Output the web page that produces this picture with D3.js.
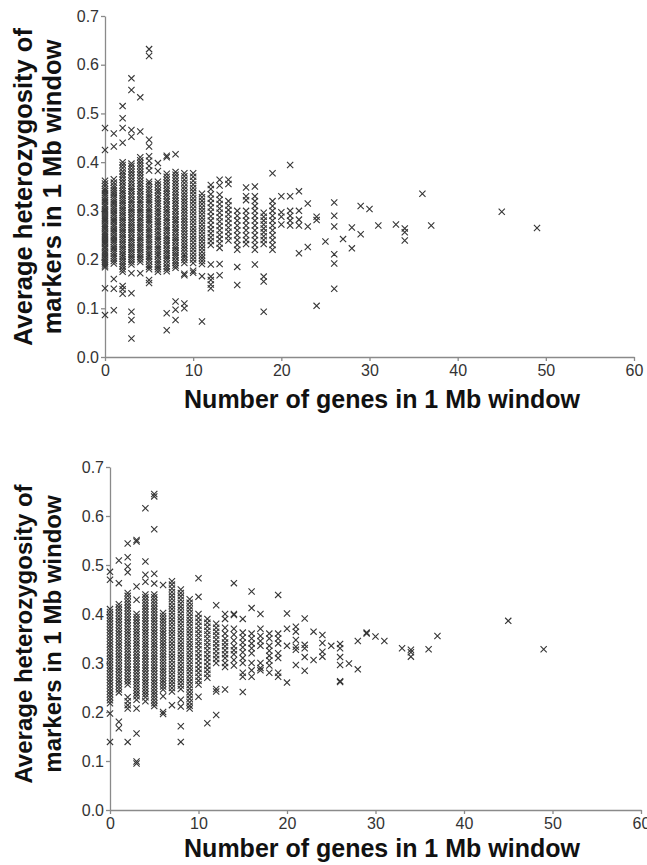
<!DOCTYPE html>
<html>
<head>
<meta charset="utf-8">
<script src="https://cdn.jsdelivr.net/npm/d3@7"></script>
<style>
  body { margin: 0; background: #fff; }
  svg { display: block; font-family: "Liberation Sans", Arial, sans-serif; }
  .axis path, .axis line { stroke: #8a8a8a; stroke-width: 1.3; }
  .axis text { fill: #333; font-size: 16px; }
  .title { fill: #111; font-weight: bold; }
  .pt { fill: none; stroke: #363636; stroke-width: 1.1; }
</style>
</head>
<body>
<svg id="chart" width="647" height="865"></svg>
<script>
// tick values
var xTicks = [0, 10, 20, 30, 40, 50, 60];
var yTicks = [0, 0.1, 0.2, 0.3, 0.4, 0.5, 0.6, 0.7];

// top panel: number of genes -> heterozygosity values
var topGenes = [0, 1, 2, 3, 4, 5, 6, 7, 8, 9, 10, 11, 12, 13, 14, 15, 16, 17, 18, 19, 20,
  21, 22, 23, 24, 25, 26, 27, 28, 29, 30, 31, 33, 34, 36, 37, 45, 49];
var topHet = [
  [0.47,0.425,0.362,0.356,0.351,0.345,0.341,0.336,0.332,0.327,0.322,0.318,0.313,0.309,0.304,0.3,0.296,0.291,0.287,0.283,0.279,0.274,0.27,0.266,0.262,0.257,0.253,0.249,0.245,0.24,0.236,0.232,0.227,0.223,0.218,0.214,0.21,0.205,0.2,0.196,0.192,0.188,0.184,0.141,0.086],
  [0.459,0.432,0.365,0.358,0.352,0.347,0.342,0.337,0.333,0.328,0.323,0.318,0.314,0.309,0.305,0.3,0.295,0.291,0.286,0.281,0.277,0.272,0.268,0.263,0.258,0.254,0.249,0.245,0.24,0.236,0.231,0.226,0.222,0.217,0.212,0.207,0.202,0.197,0.192,0.16,0.14,0.096],
  [0.515,0.49,0.47,0.44,0.4,0.394,0.388,0.381,0.375,0.37,0.364,0.358,0.352,0.347,0.341,0.336,0.331,0.326,0.321,0.316,0.311,0.306,0.301,0.296,0.291,0.286,0.281,0.276,0.271,0.266,0.261,0.256,0.251,0.246,0.241,0.236,0.231,0.226,0.221,0.216,0.211,0.206,0.201,0.196,0.191,0.186,0.18,0.175,0.146,0.139,0.13],
  [0.572,0.548,0.466,0.452,0.397,0.392,0.386,0.38,0.374,0.368,0.362,0.356,0.35,0.345,0.34,0.334,0.329,0.323,0.318,0.313,0.307,0.302,0.297,0.292,0.287,0.281,0.276,0.271,0.266,0.261,0.256,0.251,0.245,0.24,0.235,0.23,0.225,0.22,0.215,0.21,0.205,0.2,0.195,0.19,0.172,0.131,0.093,0.076,0.038],
  [0.533,0.463,0.41,0.404,0.398,0.392,0.386,0.38,0.374,0.368,0.362,0.356,0.351,0.345,0.34,0.334,0.329,0.323,0.318,0.313,0.307,0.302,0.297,0.292,0.286,0.281,0.276,0.271,0.266,0.261,0.256,0.25,0.245,0.24,0.235,0.23,0.225,0.22,0.215,0.21,0.205,0.2,0.195,0.172],
  [0.632,0.618,0.446,0.432,0.412,0.403,0.392,0.383,0.36,0.355,0.349,0.344,0.338,0.333,0.328,0.323,0.318,0.313,0.307,0.302,0.297,0.292,0.287,0.282,0.277,0.272,0.266,0.261,0.256,0.251,0.246,0.241,0.236,0.231,0.226,0.221,0.216,0.211,0.206,0.201,0.196,0.19,0.185,0.18,0.158,0.152],
  [0.398,0.382,0.36,0.354,0.348,0.342,0.337,0.331,0.326,0.32,0.315,0.31,0.304,0.299,0.294,0.289,0.283,0.278,0.273,0.268,0.263,0.257,0.252,0.247,0.242,0.237,0.231,0.226,0.221,0.216,0.211,0.206,0.2,0.195,0.19,0.185,0.18,0.175],
  [0.413,0.41,0.376,0.37,0.364,0.358,0.352,0.346,0.341,0.335,0.33,0.324,0.319,0.313,0.308,0.302,0.297,0.292,0.286,0.281,0.276,0.27,0.265,0.26,0.255,0.249,0.244,0.239,0.234,0.229,0.223,0.218,0.213,0.208,0.203,0.198,0.192,0.186,0.181,0.176,0.09,0.055],
  [0.416,0.38,0.374,0.368,0.362,0.356,0.35,0.344,0.338,0.332,0.327,0.321,0.315,0.31,0.304,0.299,0.293,0.288,0.282,0.277,0.272,0.266,0.261,0.256,0.25,0.245,0.24,0.235,0.229,0.224,0.219,0.214,0.209,0.204,0.198,0.193,0.188,0.183,0.114,0.097,0.076],
  [0.377,0.371,0.364,0.357,0.35,0.344,0.337,0.331,0.325,0.319,0.313,0.307,0.301,0.295,0.289,0.283,0.277,0.271,0.265,0.259,0.253,0.247,0.241,0.235,0.229,0.223,0.217,0.211,0.205,0.199,0.193,0.171,0.168,0.11,0.1],
  [0.377,0.37,0.362,0.354,0.347,0.34,0.333,0.326,0.319,0.312,0.305,0.298,0.291,0.284,0.277,0.27,0.263,0.256,0.249,0.242,0.235,0.228,0.221,0.214,0.207,0.2,0.193,0.177,0.173],
  [0.335,0.328,0.321,0.314,0.307,0.3,0.293,0.286,0.279,0.272,0.265,0.258,0.251,0.244,0.237,0.23,0.223,0.216,0.209,0.203,0.197,0.191,0.166,0.073],
  [0.353,0.345,0.334,0.325,0.316,0.307,0.298,0.289,0.28,0.271,0.262,0.254,0.246,0.238,0.23,0.19,0.165,0.158,0.149,0.141],
  [0.364,0.352,0.333,0.323,0.314,0.305,0.296,0.287,0.278,0.269,0.26,0.251,0.242,0.233,0.224,0.191,0.168],
  [0.364,0.355,0.32,0.311,0.302,0.293,0.284,0.275,0.266,0.257,0.248,0.239],
  [0.3,0.29,0.28,0.27,0.26,0.25,0.24,0.23,0.22,0.185,0.148],
  [0.348,0.33,0.322,0.3,0.29,0.28,0.27,0.26,0.25,0.24,0.232],
  [0.35,0.33,0.32,0.31,0.3,0.29,0.28,0.27,0.26,0.25,0.24,0.23,0.22,0.19],
  [0.296,0.288,0.28,0.272,0.264,0.256,0.248,0.24,0.232,0.165,0.155,0.093],
  [0.377,0.32,0.31,0.3,0.29,0.28,0.27,0.26,0.25,0.24,0.23,0.22],
  [0.33,0.297,0.288,0.272],
  [0.394,0.33,0.3,0.29,0.28,0.27],
  [0.34,0.3,0.282,0.27,0.213],
  [0.315,0.268,0.226],
  [0.288,0.281,0.105],
  [0.237],
  [0.317,0.29,0.268,0.211,0.192,0.14],
  [0.242],
  [0.266,0.223],
  [0.31,0.252],
  [0.304],
  [0.27],
  [0.272],
  [0.264,0.256,0.239],
  [0.335],
  [0.27],
  [0.298],
  [0.265]
];

// bottom panel
var bottomGenes = [0, 1, 2, 3, 4, 5, 6, 7, 8, 9, 10, 11, 12, 13, 14, 15, 16, 17, 18, 19, 20,
  21, 22, 23, 24, 25, 26, 27, 28, 29, 30, 31, 33, 34, 36, 37, 45, 49];
var bottomHet = [
  [0.486,0.47,0.41,0.404,0.398,0.392,0.386,0.38,0.374,0.368,0.362,0.356,0.35,0.344,0.338,0.332,0.326,0.32,0.314,0.308,0.302,0.296,0.29,0.284,0.278,0.272,0.266,0.26,0.254,0.248,0.242,0.236,0.23,0.224,0.218,0.197,0.139],
  [0.509,0.463,0.42,0.414,0.408,0.402,0.396,0.39,0.384,0.378,0.372,0.366,0.36,0.354,0.348,0.342,0.336,0.33,0.324,0.318,0.312,0.306,0.3,0.294,0.288,0.282,0.276,0.27,0.264,0.258,0.252,0.246,0.24,0.18,0.167],
  [0.544,0.516,0.497,0.485,0.443,0.437,0.43,0.424,0.418,0.412,0.406,0.4,0.394,0.388,0.382,0.376,0.37,0.364,0.358,0.352,0.346,0.34,0.334,0.328,0.322,0.316,0.31,0.304,0.298,0.292,0.286,0.28,0.274,0.268,0.262,0.256,0.23,0.222,0.214,0.207,0.139],
  [0.551,0.548,0.456,0.429,0.4,0.394,0.388,0.382,0.376,0.37,0.364,0.358,0.352,0.346,0.34,0.334,0.328,0.322,0.316,0.31,0.304,0.298,0.292,0.286,0.28,0.274,0.268,0.262,0.256,0.25,0.244,0.238,0.232,0.225,0.207,0.156,0.099,0.095],
  [0.616,0.507,0.48,0.466,0.44,0.434,0.428,0.422,0.416,0.41,0.404,0.398,0.392,0.386,0.38,0.374,0.368,0.362,0.356,0.35,0.344,0.338,0.332,0.326,0.32,0.314,0.308,0.302,0.296,0.29,0.284,0.278,0.272,0.266,0.26,0.254,0.248,0.242,0.236,0.23,0.222],
  [0.645,0.64,0.573,0.482,0.462,0.44,0.434,0.428,0.422,0.416,0.41,0.404,0.398,0.392,0.386,0.38,0.374,0.368,0.362,0.356,0.35,0.344,0.338,0.332,0.326,0.32,0.314,0.308,0.302,0.296,0.29,0.284,0.278,0.272,0.266,0.26,0.254,0.248,0.242,0.236,0.23,0.224,0.218,0.212],
  [0.459,0.402,0.396,0.39,0.384,0.378,0.372,0.366,0.36,0.354,0.348,0.342,0.336,0.33,0.324,0.318,0.312,0.306,0.3,0.294,0.288,0.282,0.276,0.27,0.264,0.258,0.252,0.246,0.232,0.2,0.196],
  [0.467,0.46,0.452,0.445,0.438,0.431,0.424,0.417,0.41,0.403,0.396,0.389,0.382,0.375,0.368,0.361,0.354,0.347,0.34,0.333,0.326,0.319,0.312,0.305,0.298,0.291,0.284,0.277,0.27,0.263,0.256,0.249,0.242,0.214],
  [0.45,0.443,0.436,0.429,0.422,0.415,0.408,0.401,0.394,0.387,0.38,0.373,0.366,0.359,0.352,0.345,0.338,0.331,0.324,0.317,0.31,0.303,0.296,0.289,0.282,0.275,0.268,0.261,0.254,0.247,0.225,0.211,0.171,0.139],
  [0.43,0.423,0.416,0.409,0.402,0.395,0.388,0.381,0.374,0.367,0.36,0.353,0.346,0.339,0.332,0.325,0.318,0.311,0.304,0.297,0.29,0.283,0.276,0.269,0.262,0.255,0.248,0.241,0.234,0.227,0.22,0.213,0.207],
  [0.473,0.435,0.4,0.392,0.384,0.376,0.368,0.36,0.352,0.344,0.336,0.328,0.32,0.312,0.304,0.296,0.288,0.28,0.272,0.264,0.256,0.231],
  [0.39,0.382,0.374,0.366,0.358,0.35,0.342,0.334,0.326,0.318,0.31,0.302,0.294,0.286,0.278,0.27,0.177],
  [0.418,0.38,0.372,0.364,0.356,0.348,0.34,0.332,0.324,0.316,0.308,0.3,0.247,0.242,0.194],
  [0.4,0.39,0.372,0.36,0.35,0.342,0.334,0.326,0.318,0.31,0.3,0.292,0.246],
  [0.463,0.4,0.398,0.37,0.358,0.346,0.334,0.326,0.318,0.306,0.295],
  [0.39,0.362,0.352,0.342,0.332,0.322,0.31,0.3,0.28,0.272,0.241],
  [0.446,0.412,0.36,0.35,0.34,0.33,0.32,0.3,0.285,0.272],
  [0.4,0.37,0.355,0.345,0.335,0.3,0.29,0.285],
  [0.36,0.35,0.335,0.325,0.315,0.305,0.295,0.28],
  [0.439,0.36,0.35,0.34,0.32,0.31,0.28,0.272],
  [0.401,0.37,0.335,0.26],
  [0.374,0.364,0.347,0.333,0.327,0.296],
  [0.391,0.337,0.33,0.312,0.284],
  [0.364,0.306],
  [0.357,0.341,0.323,0.313],
  [0.335],
  [0.339,0.33,0.312,0.296,0.263,0.261],
  [0.299],
  [0.345,0.287],
  [0.362,0.36],
  [0.354],
  [0.345],
  [0.33],
  [0.327,0.322,0.313],
  [0.328],
  [0.355],
  [0.386],
  [0.328]
];

var svg = d3.select("#chart");
var marker = d3.symbol().type(d3.symbolTimes).size(27);

function drawPanel(genes, het, box) {
  var x = d3.scaleLinear().domain([0, 60]).range([box.left, box.right]);
  var y = d3.scaleLinear().domain([0, 0.7]).range([box.bottom, box.top]);

  var points = [];
  genes.forEach(function(g, i) {
    het[i].forEach(function(h) { points.push({ g: g, h: h }); });
  });

  var g = svg.append("g");

  g.append("g")
    .attr("class", "axis")
    .attr("transform", "translate(" + box.left + ",0)")
    .call(d3.axisLeft(y).tickValues(yTicks).tickFormat(d3.format(".1f"))
      .tickSize(4).tickSizeOuter(0).tickPadding(2));

  g.append("g")
    .attr("class", "axis")
    .attr("transform", "translate(0," + box.bottom + ")")
    .call(d3.axisBottom(x).tickValues(xTicks).tickFormat(d3.format("d"))
      .tickSize(4).tickSizeOuter(0).tickPadding(4));

  // let the css set the axis font
  g.selectAll(".axis").attr("font-family", null).attr("font-size", null);

  g.append("g").selectAll("path")
    .data(points)
    .join("path")
    .attr("class", "pt")
    .attr("d", marker)
    .attr("transform", function(d) { return "translate(" + x(d.g) + "," + y(d.h) + ")"; });

  g.append("text")
    .attr("class", "title")
    .attr("x", box.titleX)
    .attr("y", box.titleY)
    .attr("text-anchor", "middle")
    .style("font-size", "25px")
    .text("Number of genes in 1 Mb window");

  var yTitle = ["Average heterozygosity of", "markers in 1 Mb window"];
  yTitle.forEach(function(line, i) {
    g.append("text")
      .attr("class", "title")
      .attr("transform", "translate(" + (32 + i * 29) + "," + box.yTitleMid + ") rotate(-90)")
      .attr("text-anchor", "middle")
      .style("font-size", box.yTitleSize)
      .text(line);
  });
}

drawPanel(topGenes, topHet, {
  left: 105, right: 634, top: 16, bottom: 357,
  titleX: 382, titleY: 408, yTitleMid: 187, yTitleSize: "25.5px"
});
drawPanel(bottomGenes, bottomHet, {
  left: 110, right: 641, top: 467, bottom: 810,
  titleX: 382, titleY: 857, yTitleMid: 634, yTitleSize: "24px"
});
</script>
</body>
</html>
